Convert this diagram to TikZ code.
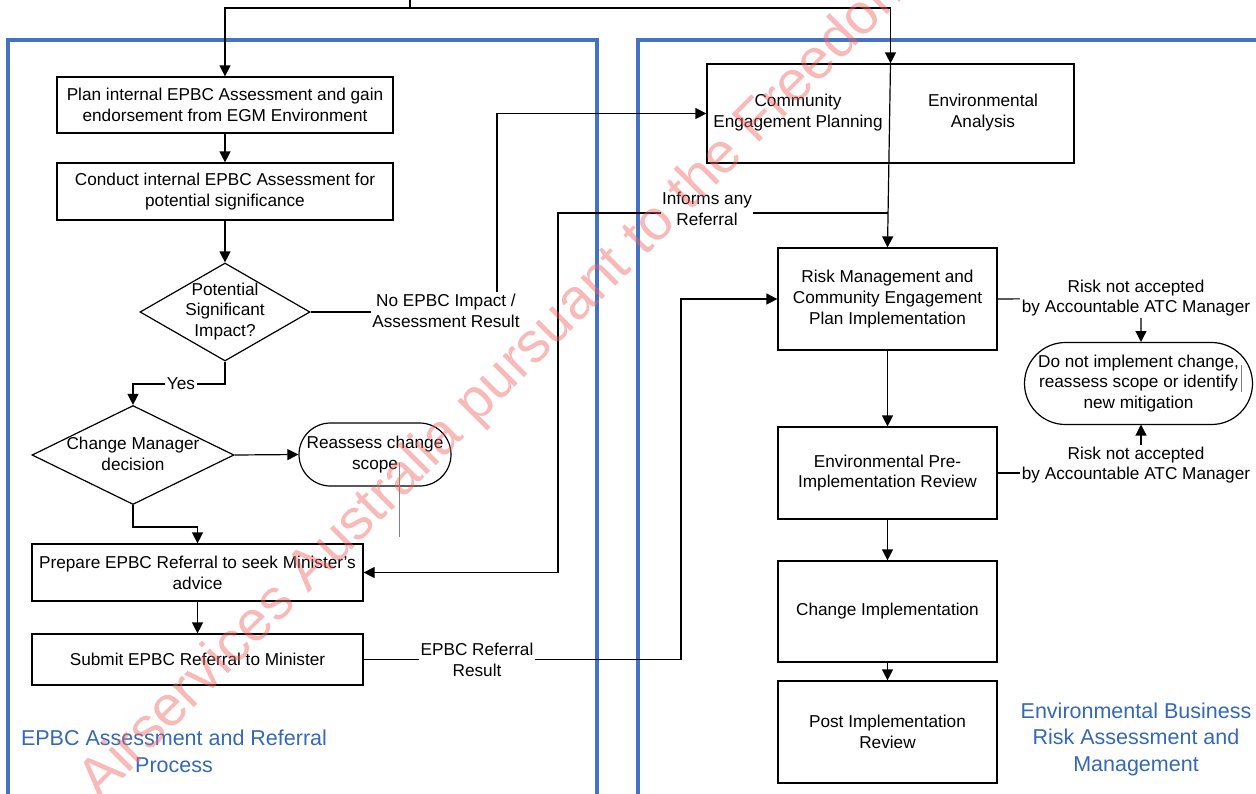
\documentclass[tikz,border=0pt]{standalone}
\usepackage{fontspec}
\setmainfont{Liberation Sans}
\usetikzlibrary{shapes.geometric,shapes.misc,arrows.meta}
\definecolor{panelblue}{RGB}{68,114,196}
\definecolor{titleblue}{RGB}{52,104,184}
\definecolor{wmred}{RGB}{240,100,100}
\begin{document}
\begin{tikzpicture}[x=1pt,y=-1pt,
  every node/.style={font=\fontsize{17.2}{20.8}\selectfont, inner sep=1pt},
  line/.style={line width=1.2pt, black},
  arr/.style={line width=1.2pt, black, -{Triangle[length=11pt,width=11pt]}},
  box/.style={draw, line width=1.2pt, align=center, inner sep=0pt},
  dia/.style={draw, diamond, line width=1.2pt, inner sep=0pt},
  term/.style={draw, rounded rectangle, line width=1.2pt, align=center, inner sep=0pt},
  lbl/.style={fill=white, align=center, inner sep=1.5pt},
  panel/.style={draw=panelblue, line width=3.6pt},
  ttl/.style={text=titleblue, align=center, font=\fontsize{21.5}{26.5}\selectfont},
  stray/.style={draw=gray, line width=0.6pt}
]
\useasboundingbox (0,0) rectangle (1256,793);
\clip (0,0) rectangle (1256,793);

% panels
\draw[panel] (8,40) rectangle (597,830);
\draw[panel] (638,40) rectangle (1300,830);

% boxes (left)
\node[box, minimum width=336pt, minimum height=56pt] (plan) at (225,105) {Plan internal EPBC Assessment and gain\\endorsement from EGM Environment};
\node[box, minimum width=336pt, minimum height=57pt] (conduct) at (225,191.5) {Conduct internal EPBC Assessment for\\potential significance};
\node[dia, minimum width=170pt, minimum height=98pt] (q1) at (225,312) {};
\node[align=center] (q1t) at (225,311.5) {Potential\\Significant\\Impact?};
\node[dia, minimum width=202pt, minimum height=99pt] (q2) at (133,455) {};
\node[align=center] (q2t) at (133,453.5) {Change Manager\\decision};
\node[term, minimum width=152pt, minimum height=63pt] (reassess) at (375,454.5) {Reassess change\\scope};
\node[box, minimum width=331pt, minimum height=57pt] (prepare) at (197.5,572.5) {Prepare EPBC Referral to seek Minister’s\\advice};
\node[box, minimum width=331pt, minimum height=51pt] (submit) at (197.5,659.5) {Submit EPBC Referral to Minister};

% boxes (right)
\node[box, minimum width=367pt, minimum height=99pt] (comm) at (890.5,113.5) {};
\node[align=center] (commt) at (798,112.5) {Community\\Engagement Planning};
\node[align=center] (envt) at (983,112.5) {Environmental\\Analysis};
\node[box, minimum width=219pt, minimum height=102pt] (risk) at (887.5,299) {Risk Management and\\Community Engagement\\Plan Implementation};
\node[term, minimum width=228pt, minimum height=82pt] (donot) at (1138.5,383.5) {Do not implement change,\\reassess scope or identify\\new mitigation};
\node[box, minimum width=219pt, minimum height=92pt] (envpre) at (887.5,473) {Environmental Pre-\\Implementation Review};
\node[box, minimum width=219pt, minimum height=101pt] (chg) at (887.5,611.5) {Change Implementation};
\node[box, minimum width=219pt, minimum height=102pt] (post) at (887.5,732) {Post Implementation\\Review};

% connectors
\coordinate (topin) at (410,0);
\coordinate (tj) at (410,8);
\draw[line] (topin) -- (tj);
\draw[arr] (tj) -| (plan.north);
\draw[arr] (tj) -| (comm.north);
\draw[arr] (comm.north) -- (risk.north);
\draw[arr] (plan) -- (conduct);
\draw[arr] (conduct) -- (q1.north);
\draw[arr] (q1.east) -- (497,312) |- (comm.west);
\draw[arr] (q1.south) -- (225,384) -| (q2.north);
\draw[arr] (q2.east) -- (reassess.west);
\draw[arr] (q2.south) -- (133,527) -| (prepare.north);
\draw[arr] (prepare) -- (submit);
\coordinate (inf) at (887.5,213);
\draw[arr] (inf) -- (558,213) |- (prepare.east);
\draw[arr] (submit.east) -- (681,659.5) |- (risk.west);
\draw[arr] (risk.east) -- (1141,298) -- (1141,342);
\draw[arr] (envpre.east) -- (1141,473) -- (1141,424.5);
\draw[arr] (risk) -- (envpre);
\draw[arr] (envpre) -- (chg);
\draw[arr] (chg) -- (post);

% connector labels
\node[lbl] (lnoepbc) at (446,310.5) {No EPBC Impact /\\Assessment Result};
\node[lbl] (lyes) at (181,384) {Yes};
\node[lbl] (linf) at (707,208.5) {Informs any\\Referral};
\node[lbl] (lres) at (477,660) {EPBC Referral\\Result};
\node[lbl] (lrisk1) at (1136,298) {Risk not accepted\\by Accountable ATC Manager};
\node[lbl] (lrisk2) at (1136,465) {Risk not accepted\\by Accountable ATC Manager};

% stray marks
\draw[stray] (399,463) -- (399,537);
\draw[stray] (1241,365) -- (1241,392);

% panel titles
\node[ttl] (ttl1) at (174,751.5) {EPBC Assessment and Referral\\Process};
\node[ttl] (ttl2) at (1136,739) {Environmental Business\\Risk Assessment and\\Management};

% watermark
\node[text=wmred, text opacity=0.45, rotate=45, anchor=base west, inner sep=0pt, font=\fontsize{57}{62}\selectfont] (wmk) at (100,802) {Airservices Australia pursuant to the Freedom};
\end{tikzpicture}
\end{document}
